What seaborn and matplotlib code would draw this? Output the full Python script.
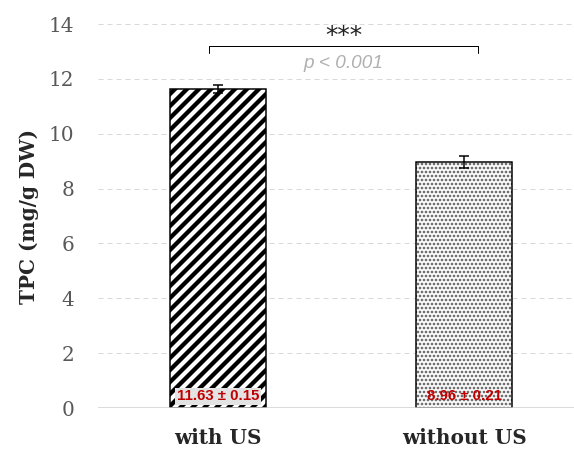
import matplotlib
matplotlib.use("Agg")
import matplotlib.pyplot as plt
import pandas as pd
import seaborn as sns

# data
groups = ["with US", "without US"]
tpc_mean = [11.63, 8.96]
tpc_sd = [0.15, 0.21]
value_labels = ["11.63 ± 0.15", "8.96 ± 0.21"]
y_ticks = [0, 2, 4, 6, 8, 10, 12, 14]

sns.set_theme(style="white")
plt.rcParams["font.family"] = ["DejaVu Serif"]

df = pd.DataFrame({"group": groups, "tpc": tpc_mean})

DPI = 72
fig = plt.figure(figsize=(574 / DPI, 454 / DPI), dpi=DPI)
ax = fig.add_axes([98 / 574, 1 - 408 / 454, 476 / 574, 384 / 454])

# main bars
sns.barplot(data=df, x="group", y="tpc", ax=ax, width=0.39,
            color="white", edgecolor="black", linewidth=1.5, saturation=1)
bars = list(ax.patches)

# striped bar
bars[0].set_hatch("//")
if hasattr(bars[0], "set_hatch_linewidth"):
    bars[0].set_hatch_linewidth(4.3)

# dotted bar: grey dots first, black outline drawn over it
bars[1].set_edgecolor("#555555")
bars[1].set_linewidth(0)
bars[1].set_hatch("...")
if hasattr(bars[1], "set_hatch_linewidth"):
    bars[1].set_hatch_linewidth(1.8)
sns.barplot(data=df.iloc[[1]], x="group", y="tpc", ax=ax, width=0.39,
            fill=False, edgecolor="black", linewidth=1.5, order=groups)

xpos = list(range(len(groups)))
ax.errorbar(xpos, tpc_mean, yerr=tpc_sd, fmt="none", ecolor="black",
            elinewidth=1.5, capsize=5, capthick=1.5, zorder=5)

# value labels at the bottom of the bars
for i, txt in enumerate(value_labels):
    box = dict(boxstyle="square,pad=0.1", fc="#e3e3e3", ec="none") if i == 0 else None
    ax.text(xpos[i], 0.42, txt, ha="center", va="center", color="#c00000",
            fontsize=15, fontweight="bold", family=["Liberation Sans Narrow", "Liberation Sans"],
            bbox=box, zorder=6)

# significance bracket
bx0, bx1, by = -0.035, 1.055, 13.2
ax.plot([bx0, bx0, bx1, bx1], [by - 0.25, by, by, by - 0.25], color="black", lw=1, zorder=5)
ax.text((bx0 + bx1) / 2, 13.55, "***", ha="center", va="center", fontsize=25,
        family=["DejaVu Sans"], color="#222222")
ax.text((bx0 + bx1) / 2, 12.55, "p < 0.001", ha="center", va="center", fontsize=19,
        style="italic", family=["Liberation Sans"], color="#b0b0b0")

ax.set_ylim(0, 14)
ax.set_xlim(-0.488, 1.447)
ax.set_yticks(y_ticks)
ax.yaxis.grid(True, linestyle=(0, (5, 4)), color="#d9d9d9", lw=1)
ax.set_axisbelow(True)
ax.axhline(0, color="#d0d0d0", lw=1.5, zorder=1)
for s in ax.spines.values():
    s.set_visible(False)
ax.tick_params(axis="y", length=0, labelsize=20, labelcolor="#595959", pad=24)
ax.tick_params(axis="x", length=0, labelsize=20, pad=20)
for lab in ax.get_xticklabels():
    lab.set_fontweight("bold")
ax.set_xlabel("")
ax.set_ylabel("TPC (mg/g DW)", fontsize=20, fontweight="bold", labelpad=10)

fig.savefig("out.png", dpi=DPI)
